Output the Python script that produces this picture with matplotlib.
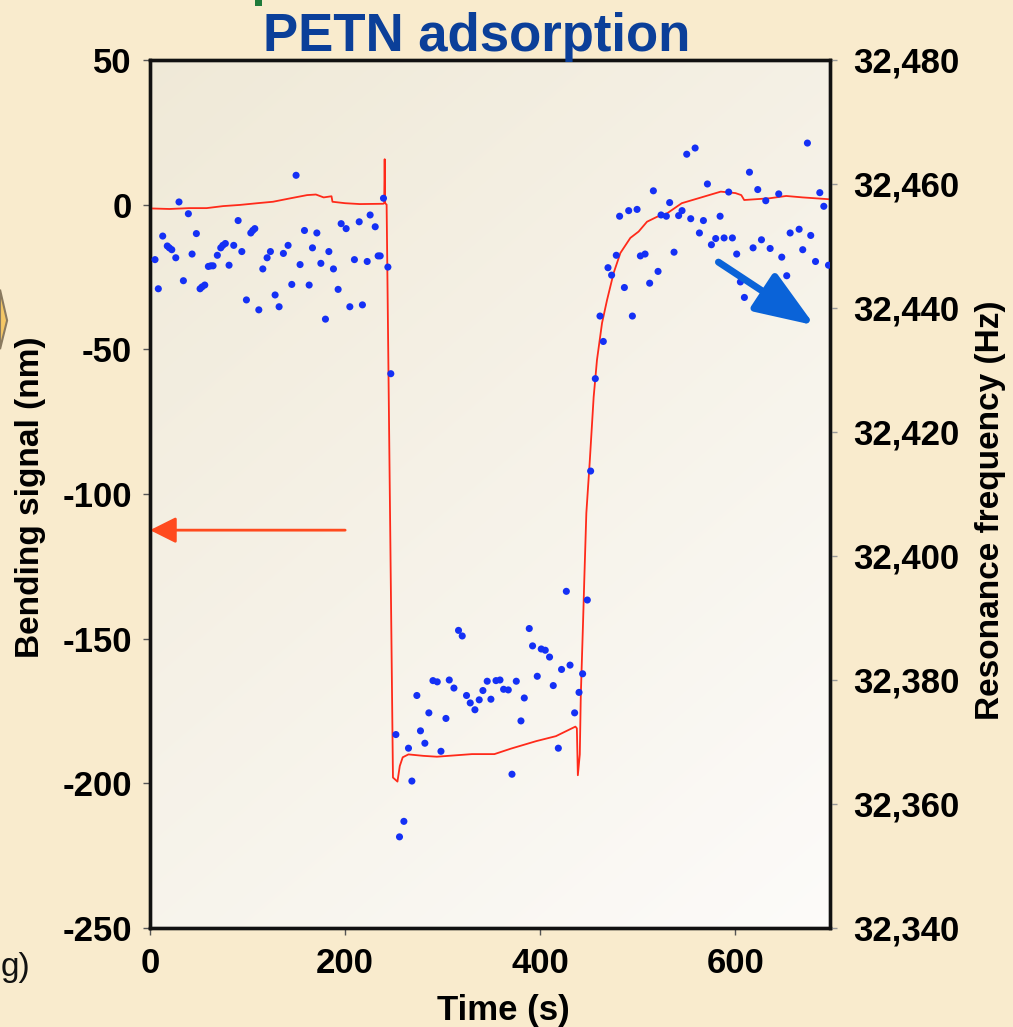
import numpy as np
import matplotlib
matplotlib.use("Agg")
import matplotlib.pyplot as plt
from matplotlib.ticker import FuncFormatter, FixedLocator
from matplotlib.patches import Polygon, Rectangle

# Bending signal (nm) versus time (s)
bend_time = [0, 20, 40, 58, 75, 92, 110, 126, 144, 161, 170, 178, 186, 187, 200, 215,
             239, 240, 240.5, 241, 242.5, 249, 253.6, 256, 259, 264.9, 280, 294, 330,
             353, 370, 396, 416, 436, 437.5, 438.5, 440.5, 441.5, 443.9, 445.1, 447.2,
             450.6, 454.7, 458.1, 463.3, 468.4, 475.2, 482.1, 492.3, 500.8, 509.4,
             519.7, 530, 545, 560, 570, 585, 600, 606, 609, 635, 652, 669, 697]
bend_nm = [-1.3, -1.5, -1.2, -1.2, -0.5, -0.1, 0.5, 1.0, 2.2, 3.3, 3.5, 2.5, 2.9, 1.0,
           0.5, 0.2, 0.3, 0.5, 15.7, 0.5, 0.0, -198.0, -199.4, -194.0, -191.0, -190.0,
           -190.5, -190.8, -189.9, -189.9, -188.0, -185.4, -183.7, -180.4, -181.0,
           -197.2, -190.0, -170.0, -143.6, -129.7, -106.6, -89.3, -66.5, -53.7, -40.9,
           -33.0, -23.6, -16.7, -11.5, -9.3, -5.9, -4.2, -3.0, 0.5, 2.0, 3.0, 4.5, 4.0,
           3.3, 1.6, 2.2, 3.0, 2.5, 1.85]

# Resonance frequency (Hz) versus time (s)
freq_time = [5.1, 8.5, 13.0, 17.7, 19.8, 22.3, 26.4, 29.7, 34.2, 39.3, 43.1, 47.5, 51.3,
             53.3, 56.1, 59.8, 62.3, 64.6, 69.0, 72.5, 74.6, 77.2, 81.0, 85.8, 90.3, 94.1,
             98.8, 103.3, 105.3, 107.4, 111.5, 115.6, 120.0, 123.4, 128.2, 132.3, 136.7,
             141.5, 145.3, 149.7, 153.8, 158.3, 163.1, 166.5, 171.0, 175.1, 179.8, 183.3,
             188.0, 192.8, 195.9, 201.0, 204.8, 209.5, 214.4, 217.7, 222.6, 225.6, 230.8,
             233.8, 235.9, 239.3, 243.8, 246.8,
             252.0, 255.7, 260.2, 264.9, 268.4, 273.5, 277.2, 281.7, 285.8, 290.0, 294.4,
             298.2, 303.3, 306.7, 311.5, 316.2, 320.0, 324.4, 328.2, 333.0, 337.4, 341.2,
             345.6, 349.4, 354.6, 358.7, 362.4, 367.2, 371.0, 375.4, 380.2, 383.6, 388.7,
             392.1, 396.9, 401.0, 405.1, 409.5, 413.3, 418.5, 421.8, 426.7, 430.5, 435.2,
             439.7, 443.4, 448.2, 451.6, 456.4, 461.2, 464.6, 469.4, 473.1, 477.9, 481.3,
             486.2, 490.6, 494.4, 499.2, 502.6, 507.4, 512.1, 515.9, 520.7, 523.8, 529.2,
             532.6, 537.1, 541.8, 545.3, 550.1, 554.2, 558.7, 563.1, 567.2, 571.3, 575.4,
             579.8, 584.3, 588.4, 593.1, 596.9, 601.3, 605.1, 609.2, 614.4, 618.1, 622.9,
             626.7, 631.1, 635.6, 639.7, 644.4, 647.5, 652.6, 656.1, 665.3, 669.0, 673.8,
             677.2, 682.1, 686.5, 690.6, 695.4]
freq_hz = [32447.8, 32443.1, 32451.6, 32450.0, 32449.7, 32449.4, 32448.1, 32457.1, 32444.4,
           32455.2, 32448.7, 32452.0, 32443.1, 32443.4, 32443.7, 32446.7, 32446.8, 32446.8,
           32448.5, 32449.7, 32450.1, 32450.4, 32446.9, 32450.1, 32454.1, 32449.1, 32441.3,
           32452.1, 32452.5, 32452.8, 32439.7, 32446.3, 32448.1, 32449.1, 32442.1, 32440.2,
           32448.8, 32450.1, 32443.8, 32461.4, 32447.0, 32452.5, 32443.7, 32449.7, 32452.1,
           32447.2, 32438.2, 32449.1, 32446.3, 32443.0, 32453.6, 32452.8, 32440.2, 32447.8,
           32453.9, 32440.5, 32447.5, 32455.0, 32453.1, 32448.4, 32448.4, 32457.7, 32446.6,
           32429.4,
           32371.2, 32354.7, 32357.2, 32369.0, 32363.7, 32377.5, 32371.8, 32369.8, 32374.7,
           32379.9, 32379.7, 32368.5, 32373.8, 32380.0, 32378.7, 32388.0, 32387.1, 32377.5,
           32376.3, 32375.2, 32376.8, 32378.3, 32379.8, 32376.9, 32379.9, 32380.0, 32378.5,
           32378.4, 32364.8, 32379.8, 32373.4, 32377.1, 32388.3, 32385.5, 32380.6, 32385.0,
           32384.8, 32383.7, 32379.1, 32369.0, 32381.7, 32394.3, 32382.4, 32374.7, 32378.0,
           32381.0, 32392.9, 32413.7, 32428.6, 32438.7, 32434.6, 32446.5, 32445.3, 32448.5,
           32454.8, 32443.3, 32455.7, 32438.7, 32455.9, 32448.4, 32448.7, 32444.0, 32458.9,
           32445.9, 32455.0, 32454.8, 32457.0, 32449.0, 32454.9, 32455.7, 32464.8, 32454.4,
           32465.8, 32452.1, 32454.1, 32460.0, 32450.2, 32451.2, 32454.8, 32451.3, 32458.7,
           32451.3, 32448.7, 32444.2, 32441.7, 32461.9, 32449.7, 32459.1, 32451.0, 32457.3,
           32449.6, 32442.7, 32458.4, 32448.2, 32445.2, 32452.1, 32452.7, 32449.4, 32466.6,
           32451.7, 32447.5, 32458.6, 32456.4, 32446.9]

x_ticks = [0, 200, 400, 600]
left_ticks = [50, 0, -50, -100, -150, -200, -250]
right_ticks = [32340, 32360, 32380, 32400, 32420, 32440, 32460, 32480]

plt.rcParams["font.family"] = ["Liberation Sans", "DejaVu Sans"]
plt.rcParams["font.weight"] = "bold"
plt.rcParams["axes.unicode_minus"] = False

fig = plt.figure(figsize=(10.13, 10.27), dpi=100)
fig.patch.set_facecolor("#F9EBCD")

ax = fig.add_axes([0.1481, 0.0964, 0.6713, 0.8452])
ax.set_xlim(0, 697)
ax.set_ylim(-250, 50)

# soft cream-to-white panel shading, darkest at the top-left corner
u = np.linspace(0, 1, 200)
v = np.linspace(0, 1, 200)
U, V = np.meshgrid(u, v)
s = np.clip(0.4 * U + 0.6 * V, 0, 1)[..., None]
c0 = np.array([0.94, 0.915, 0.845])
c1 = np.array([0.99, 0.985, 0.978])
grad = c0 * (1 - s) + c1 * s
ax.imshow(grad, extent=[0, 1, 0, 1], origin="upper", transform=ax.transAxes,
          aspect="auto", zorder=0, interpolation="bilinear")

ax.plot(bend_time, bend_nm, color="#FF2A1A", lw=1.3, zorder=3)

ax2 = ax.twinx()
ax2.set_ylim(32340, 32480)
ax2.scatter(freq_time, freq_hz, s=26, color="#1430F5", edgecolors="none", zorder=4)

for a in (ax, ax2):
    for side in ("left", "right", "top", "bottom"):
        a.spines[side].set_linewidth(2.4)
        a.spines[side].set_color("#111111")

ax.xaxis.set_major_locator(FixedLocator(x_ticks))
ax.yaxis.set_major_locator(FixedLocator(left_ticks))
ax2.yaxis.set_major_locator(FixedLocator(right_ticks))
ax.yaxis.set_major_formatter(FuncFormatter(lambda val, pos: f"{val:.0f}"))
ax2.yaxis.set_major_formatter(FuncFormatter(lambda val, pos: f"{val:,.0f}"))

ax.tick_params(axis="both", direction="out", length=5, width=1, color="#555555",
               labelsize=25, pad=8)
ax.tick_params(axis="x", pad=9)
ax2.tick_params(axis="y", direction="out", length=5, width=1, color="#999999",
                labelsize=25, pad=12)
for lab in ax.get_xticklabels() + ax.get_yticklabels() + ax2.get_yticklabels():
    lab.set_fontweight("bold")

fig.text(0.030, 0.516, "Bending signal (nm)", rotation=90, ha="center", va="center",
         fontsize=24, fontweight="bold")
fig.text(0.978, 0.503, "Resonance frequency (Hz)", rotation=90, ha="center",
         va="center", fontsize=24, fontweight="bold")
fig.text(0.497, 0.016, "Time (s)", ha="center", va="center", fontsize=25,
         fontweight="bold")
fig.text(0.4705, 0.964, "PETN adsorption", ha="center", va="center", fontsize=38,
         fontweight="bold", color="#0B3F99")

# pointer arrows to each axis
ax.annotate("", xy=(0, -112.5), xytext=(200, -112.5),
            arrowprops=dict(arrowstyle="-|>,head_length=0.8,head_width=0.4",
                            color="#FF4A1E", lw=2, mutation_scale=20,
                            shrinkA=0, shrinkB=0), zorder=5)
ax2.annotate("", xy=(681, 32437.2), xytext=(582.6, 32447.4),
             arrowprops=dict(arrowstyle="-|>,head_length=0.95,head_width=0.36",
                             color="#0A63D8", lw=5, mutation_scale=38,
                             shrinkA=0, shrinkB=0), zorder=5)

# slide remnants around the chart
fig.text(0.001, 0.058, "g)", ha="left", va="center", fontsize=24, fontweight="normal",
         color="#111111")
fig.patches.append(Rectangle((0.252, 0.994), 0.007, 0.006, transform=fig.transFigure,
                             facecolor="#1F7A3A", edgecolor="none"))
fig.patches.append(Polygon([(0.0, 0.718), (0.007, 0.688), (0.0, 0.660)],
                           closed=True, transform=fig.transFigure,
                           facecolor="#F4C766", edgecolor="#8A7A60", lw=1.5))

fig.savefig("out.png", dpi=100, facecolor=fig.get_facecolor())
